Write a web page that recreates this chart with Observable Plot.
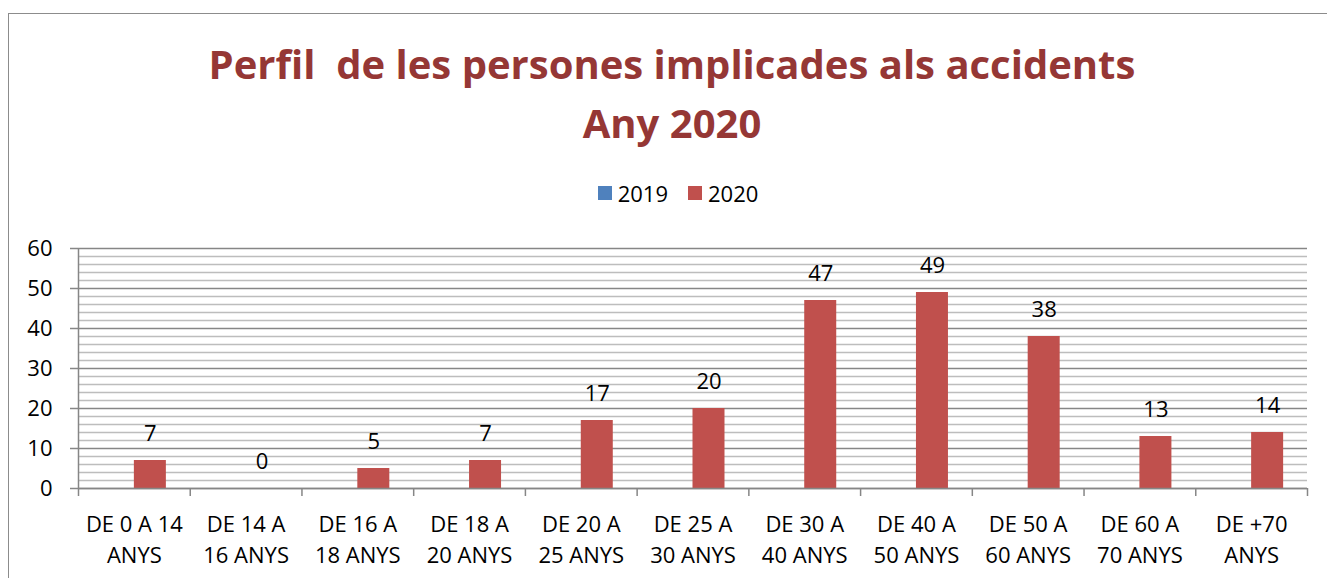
<!DOCTYPE html>
<html>
<head>
<meta charset="utf-8">
<script src="https://cdn.jsdelivr.net/npm/d3@7"></script>
<script src="https://cdn.jsdelivr.net/npm/@observablehq/plot@0.6"></script>
<style>
  html, body { margin: 0; padding: 0; background: #fff; overflow: hidden; }
  body { width: 1327px; height: 578px; position: relative; font-family: "Open Sans", sans-serif; }
  #frame { position: absolute; left: 8px; top: 13px; width: 1340px; height: 600px; border: 1px solid #8c8c8c; box-sizing: border-box; }
  #title { position: absolute; left: 0; top: 34px; width: 1344px; text-align: center; font-weight: bold; font-size: 40px; line-height: 59px; color: #953735; white-space: pre; }
  #legend { position: absolute; left: 8px; top: 178px; width: 1340px; display: flex; justify-content: center; align-items: center; gap: 20px; font-size: 22px; color: #000; }
  #legend .item { display: flex; align-items: center; gap: 6px; }
  #legend .sw { width: 14px; height: 14px; display: inline-block; }
  #chart { position: absolute; left: 0; top: 230px; }
</style>
</head>
<body>
<div id="frame"></div>
<div id="title"></div>
<div id="legend"></div>
<div id="chart"></div>
<script>
const titleLines = ["Perfil  de les persones implicades als accidents", "Any 2020"];
const seriesNames = ["2019", "2020"];
const seriesColors = ["#4f81bd", "#c0504d"];
const categories = ["DE 0 A 14 ANYS", "DE 14 A 16 ANYS", "DE 16 A 18 ANYS", "DE 18 A 20 ANYS", "DE 20 A 25 ANYS", "DE 25 A 30 ANYS", "DE 30 A 40 ANYS", "DE 40 A 50 ANYS", "DE 50 A 60 ANYS", "DE 60 A 70 ANYS", "DE +70 ANYS"];
const tickLabels = ["DE 0 A 14\nANYS", "DE 14 A\n16 ANYS", "DE 16 A\n18 ANYS", "DE 18 A\n20 ANYS", "DE 20 A\n25 ANYS", "DE 25 A\n30 ANYS", "DE 30 A\n40 ANYS", "DE 40 A\n50 ANYS", "DE 50 A\n60 ANYS", "DE 60 A\n70 ANYS", "DE +70\nANYS"];
const values2019 = [];
const values2020 = [7, 0, 5, 7, 17, 20, 47, 49, 38, 13, 14];
const yTicks = [0, 10, 20, 30, 40, 50, 60];
const yMinorTicks = [2, 4, 6, 8, 12, 14, 16, 18, 22, 24, 26, 28, 32, 34, 36, 38, 42, 44, 46, 48, 52, 54, 56, 58];

document.getElementById("title").textContent = titleLines.join("\n");
const legend = document.getElementById("legend");
seriesNames.forEach((name, i) => {
  const item = document.createElement("div");
  item.className = "item";
  const sw = document.createElement("span");
  sw.className = "sw";
  sw.style.background = seriesColors[i];
  const lab = document.createElement("span");
  lab.textContent = name;
  item.append(sw, lab);
  legend.append(item);
});

const data2020 = categories.map((c, i) => ({category: c, value: values2020[i]}));
const labelOf = new Map(categories.map((c, i) => [c, tickLabels[i]]));

const W = 1327, H = 348, mL = 78, mR = 20, mT = 18, mB = 90;
const bw = (W - mL - mR) / categories.length;
const gray = "#868686";

const chart = Plot.plot({
  width: W,
  height: H,
  marginLeft: mL,
  marginRight: mR,
  marginTop: mT,
  marginBottom: mB,
  style: {fontFamily: "Open Sans, sans-serif", fontSize: "22px", color: "#000", background: "transparent"},
  x: {domain: categories, padding: 0, round: false, axis: null},
  y: {domain: [0, 60], axis: null},
  marks: [
    Plot.ruleY(yMinorTicks, {stroke: "#bdbdbd", strokeWidth: 1.5}),
    Plot.ruleY(yTicks, {stroke: gray, strokeWidth: 1.5}),
    Plot.barY(data2020, {x: "category", y: "value", fill: seriesColors[1], insetLeft: bw / 2, insetRight: bw / 2 - 32}),
    Plot.ruleY([0], {stroke: gray, strokeWidth: 1.5}),
    Plot.ruleX([categories[0]], {x: d => d, dx: -bw / 2, y1: -2, y2: 60, stroke: gray, strokeWidth: 1.5}),
    Plot.ruleX(categories, {x: d => d, dx: bw / 2, y1: -2, y2: 0, stroke: gray, strokeWidth: 1.5}),
    Plot.axisY({ticks: yTicks, tickSize: 8, tickFormat: () => "", label: null, stroke: gray, strokeWidth: 1.5}),
    Plot.axisY({ticks: yTicks, tickSize: 0, tickPadding: 26, label: null, fill: "#000", fontSize: 22}),
    Plot.axisX({tickSize: 0, tickPadding: 22, label: null, tickFormat: d => labelOf.get(d), lineHeight: 1.4, fill: "#000", fontSize: 22}),
    Plot.text(data2020, {x: "category", y: "value", text: d => String(d.value), dx: 16, dy: -20, lineAnchor: "bottom", fill: "#000", fontSize: 22})
  ]
});
document.getElementById("chart").append(chart);
</script>
</body>
</html>
